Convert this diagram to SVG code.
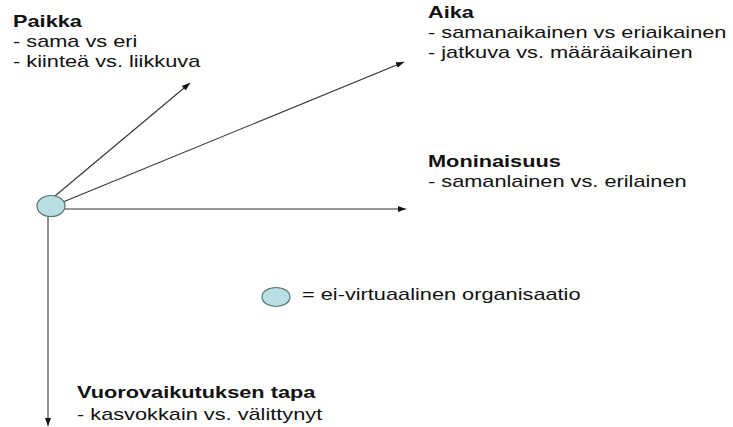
<svg xmlns="http://www.w3.org/2000/svg" width="733" height="427" viewBox="0 0 733 427">
<style>
.t{font-family:"Liberation Sans",Arial,sans-serif;font-size:16px;fill:#111}
.h{font-weight:bold}
.c{stroke:#333;stroke-width:1.1;fill:none}
.org{fill:#b9dfe3;stroke:#557070;stroke-width:1.2}
</style>
<defs>
<marker id="ah" markerUnits="userSpaceOnUse" markerWidth="9" markerHeight="7" refX="8" refY="3" orient="auto">
<path d="M0,0 L8,3 L0,6 z" fill="#111"/>
</marker>
</defs>
<rect width="733" height="427" fill="#fff"/>
<g id="connectors">
<line class="c" x1="55" y1="196" x2="190" y2="83" marker-end="url(#ah)"/>
<line class="c" x1="63" y1="202" x2="404" y2="62" marker-end="url(#ah)"/>
<line class="c" x1="65" y1="209" x2="406" y2="209" marker-end="url(#ah)"/>
<line class="c" x1="48" y1="217" x2="48" y2="426" marker-end="url(#ah)"/>
</g>
<g id="origin">
<ellipse class="org" cx="51" cy="206" rx="14" ry="10.5"/>
</g>
<g id="paikka">
<text class="t h" transform="translate(13,27) scale(1.36,1)">Paikka</text>
<text class="t" transform="translate(13,47) scale(1.36,1)">- sama vs eri</text>
<text class="t" transform="translate(13,67) scale(1.36,1)">- kiinteä vs. liikkuva</text>
</g>
<g id="aika">
<text class="t h" transform="translate(428,18) scale(1.36,1)">Aika</text>
<text class="t" transform="translate(428,38) scale(1.36,1)">- samanaikainen vs eriaikainen</text>
<text class="t" transform="translate(428,58) scale(1.36,1)">- jatkuva vs. määräaikainen</text>
</g>
<g id="moninaisuus">
<text class="t h" transform="translate(428,167) scale(1.36,1)">Moninaisuus</text>
<text class="t" transform="translate(428,187) scale(1.36,1)">- samanlainen vs. erilainen</text>
</g>
<g id="legend">
<ellipse class="org" cx="276" cy="297" rx="14" ry="9.5"/>
<text class="t" transform="translate(302,300) scale(1.36,1)">= ei-virtuaalinen organisaatio</text>
</g>
<g id="vuorovaikutus">
<text class="t h" transform="translate(77,398) scale(1.36,1)">Vuorovaikutuksen tapa</text>
<text class="t" transform="translate(77,420) scale(1.36,1)">- kasvokkain vs. välittynyt</text>
</g>
</svg>
